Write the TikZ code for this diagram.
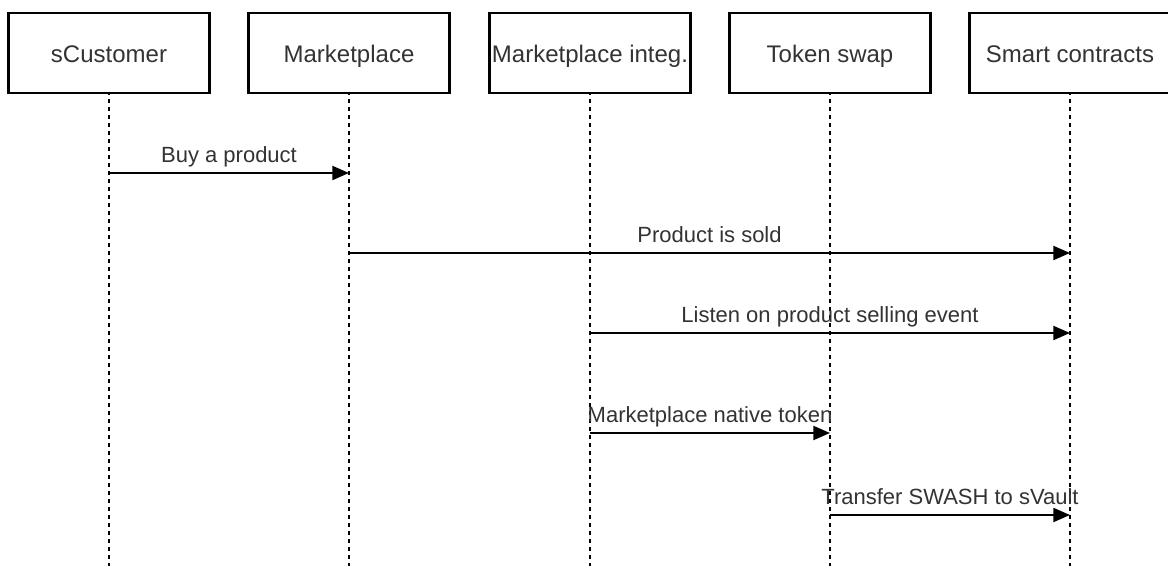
\documentclass[tikz,border=0pt]{standalone}
\usepackage{fontspec}
\setmainfont{Liberation Sans}
\usetikzlibrary{arrows.meta,calc}
\definecolor{txt}{HTML}{333333}
\begin{document}
\begin{tikzpicture}[x=0.75pt,y=-0.75pt,
  actor/.style={draw=black,line width=1.6pt,minimum width=201*0.75pt,minimum height=80*0.75pt,
    inner sep=0pt,text=txt,font=\fontsize{18}{21}\selectfont,fill=white,
    text height=18pt,text depth=3pt},
  lifeline/.style={draw=black,line width=1.6pt,dash pattern=on 3pt off 3pt,dash phase=2pt},
  msg/.style={draw=black,line width=1.6pt,-{Triangle[length=12.5pt,width=10.5pt]}},
  lbl/.style={text=txt,font=\fontsize{16.5}{19}\selectfont,anchor=base,inner sep=0pt}]
\clip (0,0) rectangle (1168,566);
\fill[white] (0,0) rectangle (1168,566);
% actors
\node[actor] (b1) at (109,53) {sCustomer};
\node[actor] (b2) at (349,53) {Marketplace};
\node[actor] (b3) at (590,53) {Marketplace integ.};
\node[actor] (b4) at (830,53) {Token swap};
\node[actor] (b5) at (1070,53) {Smart contracts};
% lifeline ends
\coordinate (e1) at (b1.south |- 0,600);
\coordinate (e2) at (b2.south |- 0,600);
\coordinate (e3) at (b3.south |- 0,600);
\coordinate (e4) at (b4.south |- 0,600);
\coordinate (e5) at (b5.south |- 0,600);
\draw[lifeline] (b1.south) -- (e1);
\draw[lifeline] (b2.south) -- (e2);
\draw[lifeline] (b3.south) -- (e3);
\draw[lifeline] (b4.south) -- (e4);
\draw[lifeline] (b5.south) -- (e5);
% message points
\coordinate (m1a) at (b1.south |- 0,173);
\coordinate (m1b) at (b2.south |- 0,173);
\coordinate (m2a) at (b2.south |- 0,253);
\coordinate (m2b) at (b5.south |- 0,253);
\coordinate (m3a) at (b3.south |- 0,333);
\coordinate (m3b) at (b5.south |- 0,333);
\coordinate (m4a) at (b3.south |- 0,433);
\coordinate (m4b) at (b4.south |- 0,433);
\coordinate (m5a) at (b4.south |- 0,515);
\coordinate (m5b) at (b5.south |- 0,515);
% messages
\draw[msg] (m1a) -- (m1b);
\draw[msg] (m2a) -- (m2b);
\draw[msg] (m3a) -- (m3b);
\draw[msg] (m4a) -- (m4b);
\draw[msg] (m5a) -- (m5b);
% labels
\node[lbl] (l1) at ($(m1a)!0.5!(m1b)+(0,-10)$) {Buy a product};
\node[lbl] (l2) at ($(m2a)!0.5!(m2b)+(0,-10)$) {Product is sold};
\node[lbl] (l3) at ($(m3a)!0.5!(m3b)+(0,-10)$) {Listen on product selling event};
\node[lbl] (l4) at ($(m4a)!0.5!(m4b)+(0,-10)$) {Marketplace native token};
\node[lbl] (l5) at ($(m5a)!0.5!(m5b)+(0,-10)$) {Transfer SWASH to sVault};
\end{tikzpicture}
\end{document}
